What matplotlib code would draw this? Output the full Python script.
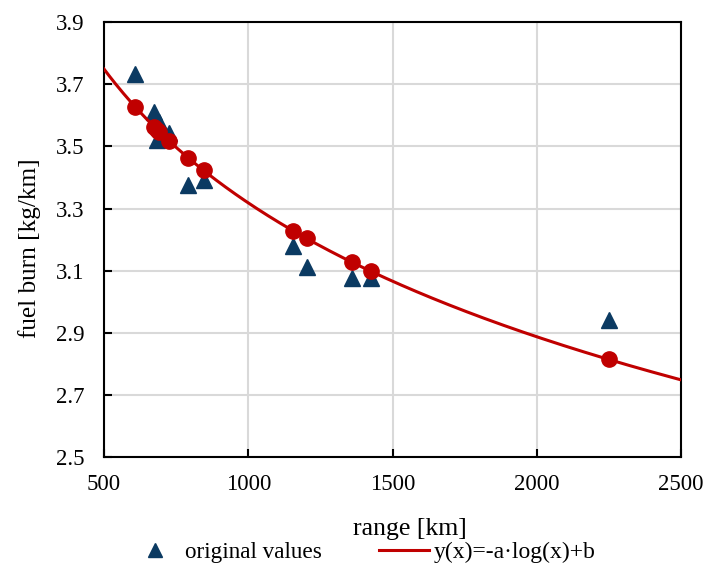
import numpy as np
import matplotlib.pyplot as plt

# range [km] of each data point
range_km = [609, 675, 685, 691, 725, 792, 845, 1155, 1204, 1360, 1425, 2250]
# measured fuel burn [kg/km]
fuel_burn = [3.733, 3.611, 3.520, 3.578, 3.542, 3.375, 3.391, 3.178, 3.113, 3.076, 3.078, 2.940]
# fitted fuel burn at the same ranges
fuel_burn_fit = [3.626, 3.562, 3.553, 3.548, 3.518, 3.463, 3.423, 3.229, 3.204, 3.128, 3.100, 2.815]

# log fit coefficients, y(x) = -a*ln(x) + b
a = 0.622
b = 7.615

x_ticks = [500, 1000, 1500, 2000, 2500]
y_ticks = [2.5, 2.7, 2.9, 3.1, 3.3, 3.5, 3.7, 3.9]

plt.rcParams["font.family"] = ["Liberation Serif", "DejaVu Serif"]

navy = "#0B3A62"
red = "#C00000"

fig = plt.figure(figsize=(7.06, 5.63), dpi=100)
ax = fig.add_axes([0.1473, 0.1883, 0.8173, 0.7721])

x_curve = np.linspace(500, 2500, 300)
ax.plot(x_curve, -a * np.log(x_curve) + b, color=red, lw=2.2, zorder=3,
        label="y(x)=-a\u00b7log(x)+b")
ax.plot(range_km, fuel_burn, linestyle="none", marker="^", ms=11,
        color=navy, zorder=2, label="original values")
ax.plot(range_km, fuel_burn_fit, linestyle="none", marker="o", ms=11,
        color=red, zorder=4)

ax.set_xlim(500, 2500)
ax.set_ylim(2.5, 3.9)
ax.set_xticks(x_ticks)
ax.set_yticks(y_ticks)
ax.set_yticklabels([f"{v:.1f}" for v in y_ticks])
ax.grid(True, color="#D9D9D9", lw=1.5)
ax.set_axisbelow(True)
for s in ax.spines.values():
    s.set_linewidth(1.5)
ax.tick_params(direction="in", length=6, width=1.5, labelsize=16.5)
ax.tick_params(axis="x", pad=12)
ax.tick_params(axis="y", pad=14)

ax.set_xlabel("range [km]", fontsize=18.5)
ax.xaxis.set_label_coords(0.5295, -0.141)
ax.set_ylabel("fuel burn [kg/km]", fontsize=18.2)
ax.yaxis.set_label_coords(-0.109, 0.48)

handles, labels = ax.get_legend_handles_labels()
leg = fig.legend(handles[::-1], labels[::-1], ncol=2, loc="center",
                 bbox_to_anchor=(0.514, 0.019), frameon=False, fontsize=17,
                 handlelength=2.1, handletextpad=0.2, columnspacing=2.45,
                 markerscale=0.9)
leg.get_texts()[0].set_fontsize(16.7)

fig.savefig("out.png", dpi=100)
